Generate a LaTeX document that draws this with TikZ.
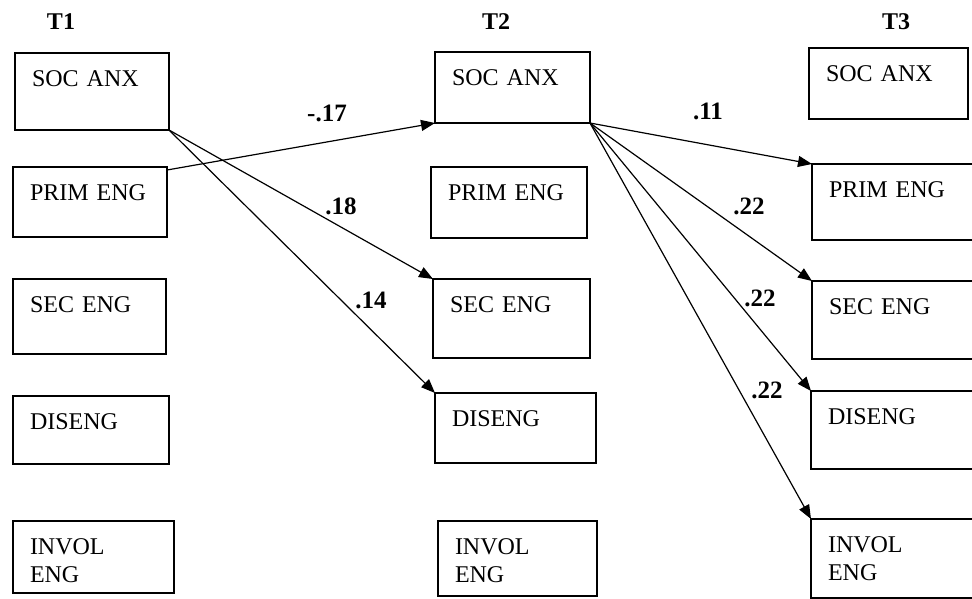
\documentclass[tikz,border=0pt]{standalone}
\usepackage{fontspec}
\setmainfont{Liberation Serif}
\usetikzlibrary{arrows.meta}
\tikzset{
    var-box/.style 2 args = {draw, line width=1.6pt, anchor=north west, outer sep=0pt, inner xsep=17pt, inner ysep=0pt, align=left, text width={#1pt-34pt}, text height=33pt, text depth={#2pt-33pt}, font=\fontsize{24}{28}\selectfont},
    wave-title/.style = {inner sep=0pt, font=\fontsize{24}{28}\selectfont\bfseries},
    path-coef/.style = {inner sep=0pt, font=\fontsize{25}{30}\selectfont\bfseries},
    path-arrow/.style = {line width=1.2pt, -{Triangle[length=14pt, width=11pt]}},
}

\begin{document}
\begin{tikzpicture}[x=1pt, y=-1pt]
\useasboundingbox (0,0) rectangle (972,598);

% time points
\node[wave-title] (t1) at (61,22) {T1};
\node[wave-title] (t2) at (496,22) {T2};
\node[wave-title] (t3) at (896,22) {T3};

% T1
\node[var-box={154}{77}] (soc1) at (15,53) {SOC ANX};
\node[var-box={154}{70}] (prim1) at (13,167) {PRIM ENG};
\node[var-box={153}{75}] (sec1) at (13,279) {SEC ENG};
\node[var-box={156}{68}] (dis1) at (13,396) {DISENG};
\node[var-box={161}{72}] (inv1) at (13,521) {INVOL\\ENG};

% T2
\node[var-box={155}{71}] (soc2) at (435,52) {SOC ANX};
\node[var-box={156}{71}] (prim2) at (431,167) {PRIM ENG};
\node[var-box={157}{79}] (sec2) at (433,279) {SEC ENG};
\node[var-box={161}{70}] (dis2) at (435,393) {DISENG};
\node[var-box={159}{75}] (inv2) at (438,521) {INVOL\\ENG};

% T3
\node[var-box={159}{71}] (soc3) at (809,48) {SOC ANX};
\node[var-box={165}{76}] (prim3) at (812,164) {PRIM ENG};
\node[var-box={165}{78}] (sec3) at (812,281) {SEC ENG};
\node[var-box={163}{78}] (dis3) at (811,391) {DISENG};
\node[var-box={163}{79}] (inv3) at (811,519) {INVOL\\ENG};

% paths T1 -> T2
\draw[path-arrow] ([yshift=-3pt]prim1.north east) -- (soc2.south west);
\draw[path-arrow] (soc1.south east) -- (sec2.north west);
\draw[path-arrow] (soc1.south east) -- (dis2.north west);

% paths T2 -> T3
\draw[path-arrow] (soc2.south east) -- (prim3.north west);
\draw[path-arrow] (soc2.south east) -- (sec3.north west);
\draw[path-arrow] (soc2.south east) -- (dis3.north west);
\draw[path-arrow] (soc2.south east) -- (inv3.north west);

% coefficients
\node[path-coef] (c-prim) at (327,113) {-.17};
\node[path-coef] (c-sec) at (341,206) {.18};
\node[path-coef] (c-dis) at (371,300) {.14};
\node[path-coef] (c-prim3) at (708,111) {.11};
\node[path-coef] (c-sec3) at (749,206) {.22};
\node[path-coef] (c-dis3) at (760,298) {.22};
\node[path-coef] (c-inv3) at (767,390) {.22};
\end{tikzpicture}
\end{document}
